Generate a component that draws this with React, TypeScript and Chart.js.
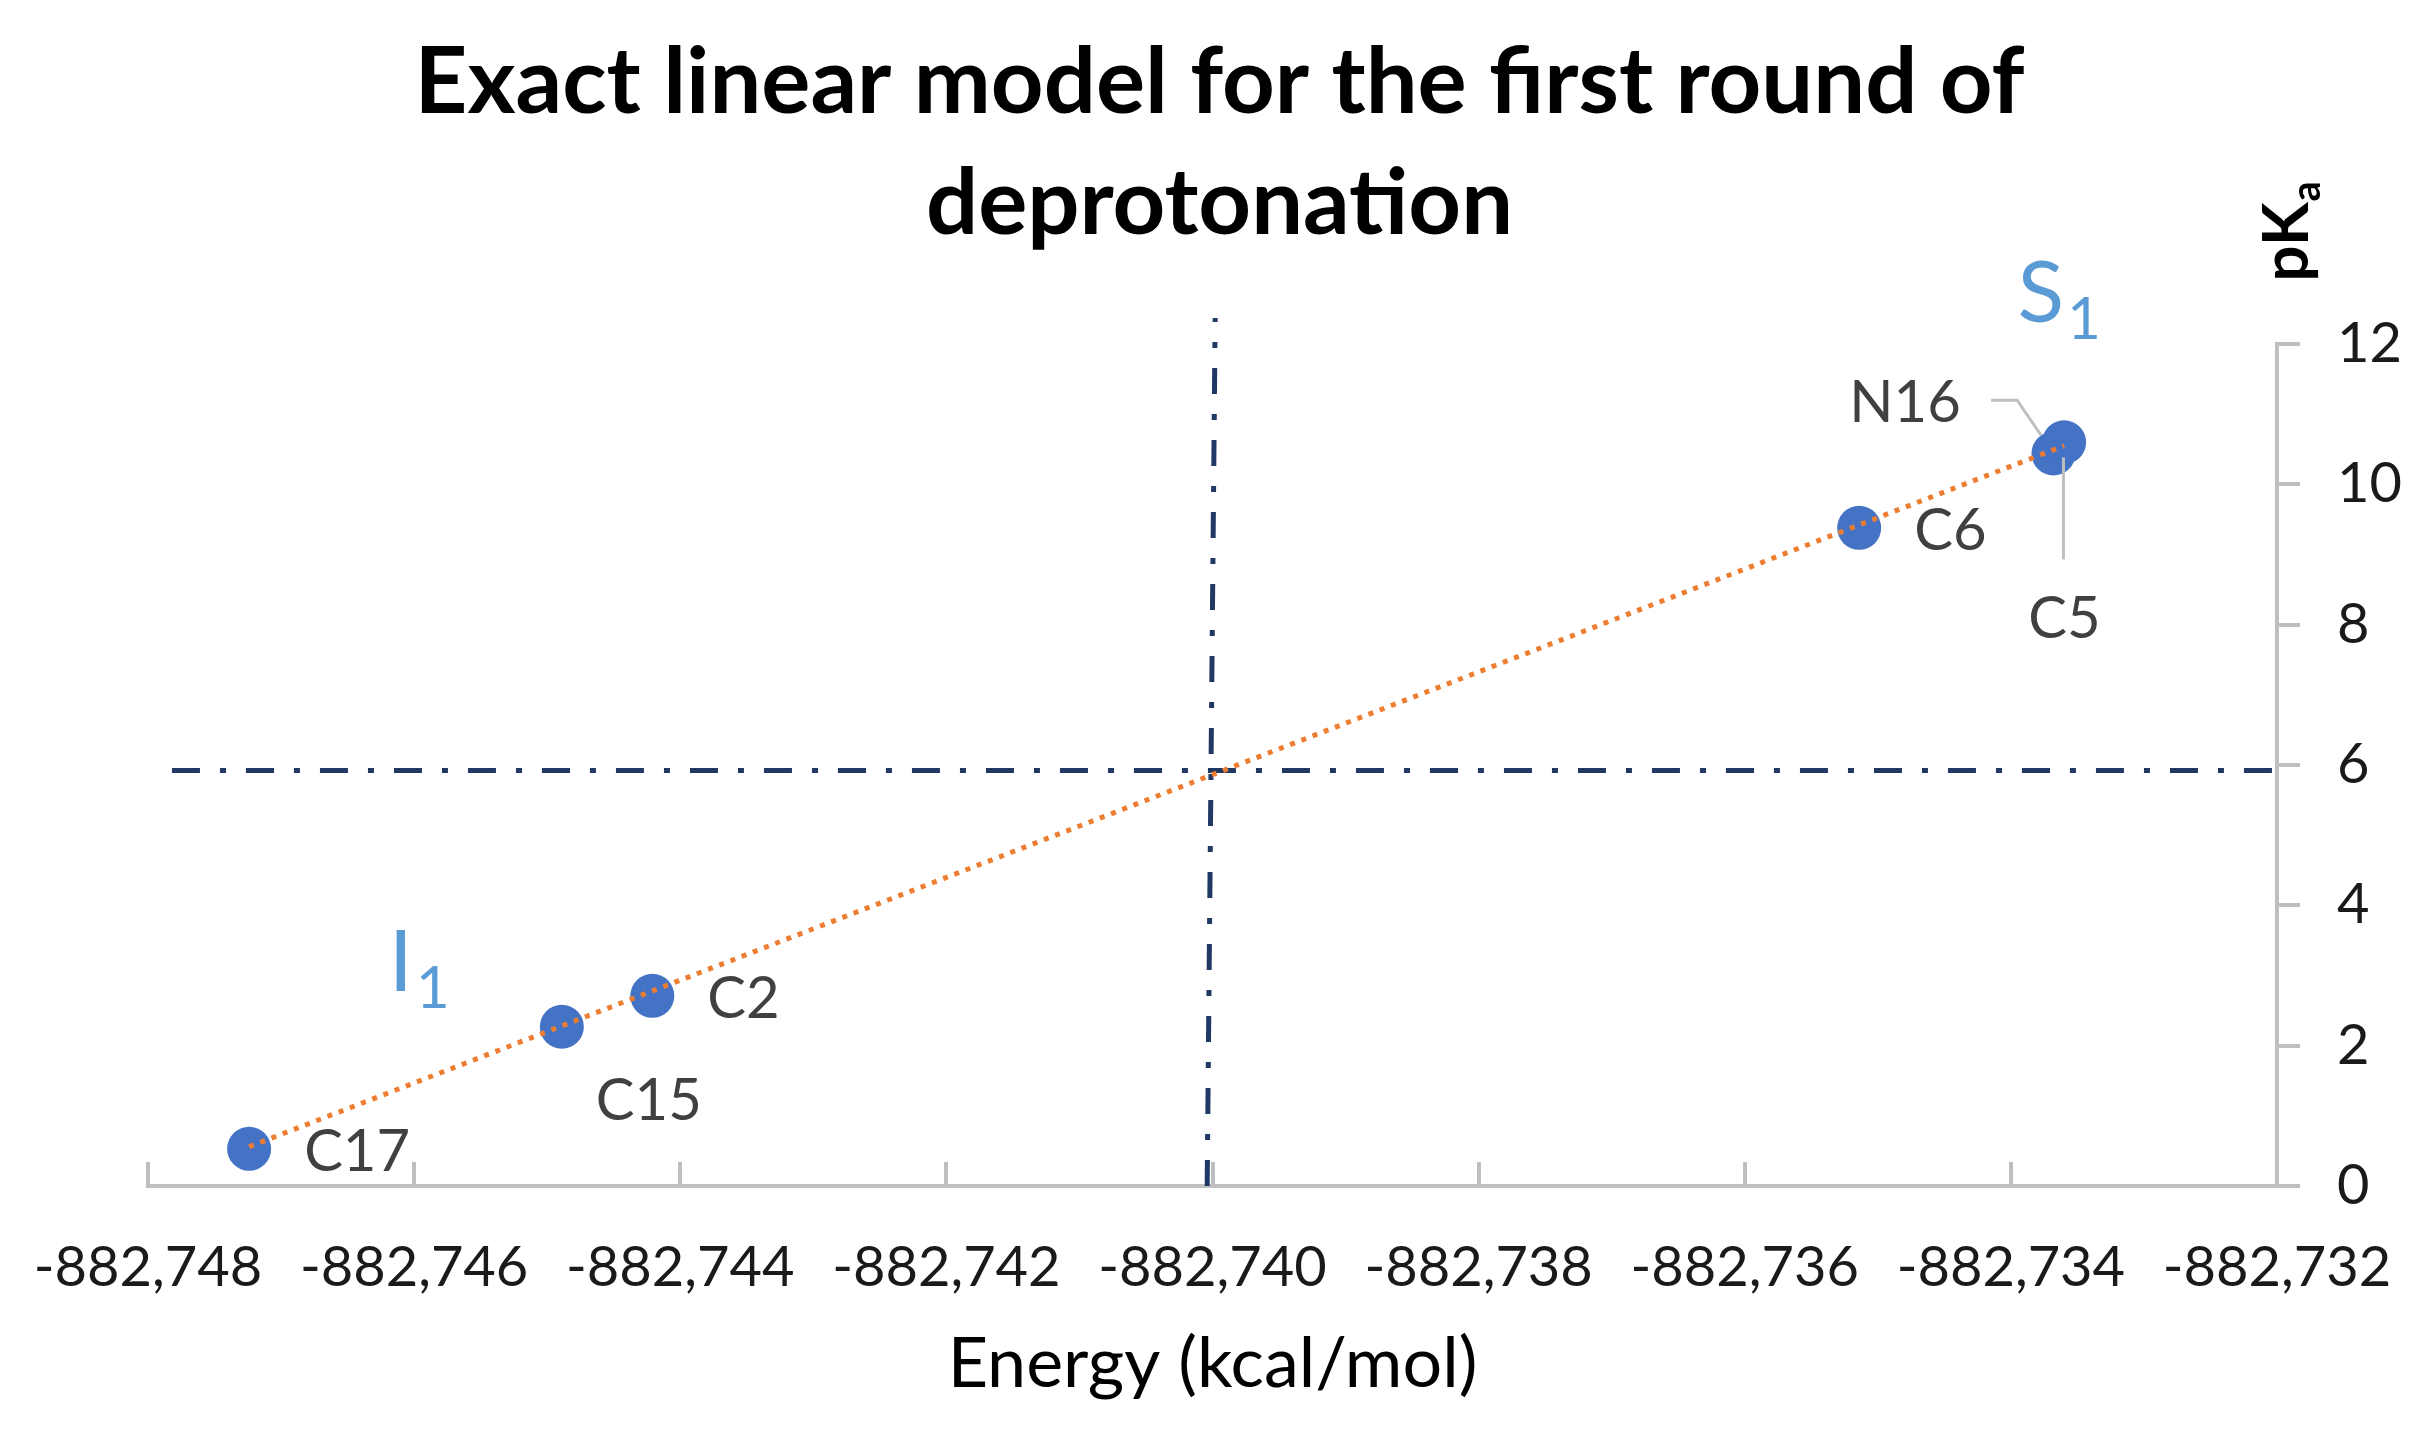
import React, { useEffect, useRef } from "react";
import { Chart, registerables } from "chart.js";

Chart.register(...registerables);

// ---------------- data ----------------
const chartTitleLines = ["Exact linear model for the first round of", "deprotonation"];
const xAxisTitle = "Energy (kcal/mol)";

const siteLabels = ["C17", "C15", "C2", "C6", "C5", "N16"];
const energyValues = [-882747.24, -882744.89, -882744.21, -882735.14, -882733.68, -882733.6];
const pKaValues = [0.53, 2.27, 2.71, 9.38, 10.44, 10.6];

// linear trendline end points
const trendEnergy = [-882747.24, -882733.6];
const trendPKa = [0.56, 10.55];

// reference dash-dot lines
const verticalRefEnergy = [-882740.04, -882739.98];
const verticalRefPKa = [0, 12.37];
const horizontalRefEnergy = [-882747.82, -882732];
const horizontalRefPKa = [5.92, 5.92];

const xTickValues = [-882748, -882746, -882744, -882742, -882740, -882738, -882736, -882734, -882732];
const yTickValues = [0, 2, 4, 6, 8, 10, 12];

// ---------------- style ----------------
const W = 2433;
const H = 1433;
const FONT = "Lato, 'Open Sans', 'DejaVu Sans', sans-serif";
const BLUE = "#4472C4";
const ORANGE = "#ED7D31";
const NAVY = "#1F3864";
const AXIS_GREY = "#BFBFBF";
const LABEL_GREY = "#404040";
const ANNOT_BLUE = "#5B9BD5";

function formatThousands(v: number): string {
  const neg = v < 0;
  const s = Math.round(Math.abs(v)).toString();
  const out = s.replace(/\B(?=(\d{3})+(?!\d))/g, ",");
  return (neg ? "-" : "") + out;
}

const annotationPlugin = {
  id: "customAnnotations",
  afterDraw(chart: any) {
    const { ctx, chartArea, scales } = chart;
    const xs = scales.x;
    const ys = scales.y;
    ctx.save();

    // ---- title ----
    ctx.fillStyle = "#000000";
    ctx.font = `bold 92px ${FONT}`;
    ctx.textAlign = "center";
    ctx.textBaseline = "middle";
    const cx = W / 2 + 3;
    ctx.fillText(chartTitleLines[0], cx, 83);
    ctx.fillText(chartTitleLines[1], cx, 204);

    // ---- pKa axis label (rotated, top right) ----
    ctx.save();
    ctx.translate(chartArea.right + 31, 232);
    ctx.rotate(-Math.PI / 2);
    ctx.textAlign = "left";
    ctx.textBaseline = "alphabetic";
    ctx.font = `bold 64px ${FONT}`;
    const w1 = ctx.measureText("pK").width;
    ctx.font = `bold 40px ${FONT}`;
    const w2 = ctx.measureText("a").width;
    const start = -(w1 + w2) / 2;
    ctx.font = `bold 64px ${FONT}`;
    ctx.fillText("pK", start, 0);
    ctx.font = `bold 40px ${FONT}`;
    ctx.fillText("a", start + w1 + 1, 12);
    ctx.restore();

    // ---- S1 / I1 annotations ----
    const drawSubLabel = (main: string, sub: string, xv: number, yv: number) => {
      const px = xs.getPixelForValue(xv);
      const py = ys.getPixelForValue(yv);
      ctx.fillStyle = ANNOT_BLUE;
      ctx.textAlign = "left";
      ctx.textBaseline = "alphabetic";
      ctx.font = `86px ${FONT}`;
      const mw = ctx.measureText(main).width;
      ctx.fillText(main, px, py);
      ctx.font = `58px ${FONT}`;
      ctx.fillText(sub, px + mw + 3, py + 17);
    };
    drawSubLabel("S", "1", -882733.95, 12.31);
    drawSubLabel("I", "1", -882746.19, 2.78);

    // ---- data labels with leader lines ----
    const meta = chart.getDatasetMeta(1);
    ctx.font = `58px ${FONT}`;
    ctx.fillStyle = LABEL_GREY;
    ctx.textBaseline = "middle";
    ctx.strokeStyle = AXIS_GREY;
    ctx.lineWidth = 3;
    meta.data.forEach((el: any, i: number) => {
      const name = siteLabels[i];
      const x = el.x;
      const y = el.y;
      if (name === "C15") {
        ctx.textAlign = "center";
        ctx.fillText(name, x + 87, y + 75);
      } else if (name === "C5") {
        ctx.beginPath();
        ctx.moveTo(x + 10, y + 4);
        ctx.lineTo(x + 10, y + 106);
        ctx.stroke();
        ctx.textAlign = "center";
        ctx.fillText(name, x + 11, y + 166);
      } else if (name === "N16") {
        ctx.beginPath();
        ctx.moveTo(x - 73, y - 42);
        ctx.lineTo(x - 47, y - 42);
        ctx.lineTo(x - 23, y - 7);
        ctx.stroke();
        ctx.textAlign = "center";
        ctx.fillText(name, x - 159, y - 39);
      } else {
        ctx.textAlign = "left";
        ctx.fillText(name, x + 55, y + 3);
      }
    });

    ctx.restore();
  },
};

export default function App() {
  const canvasRef = useRef<HTMLCanvasElement | null>(null);

  useEffect(() => {
    document.body.style.margin = "0";
    document.body.style.overflow = "hidden";
    const canvas = canvasRef.current;
    if (!canvas) return;

    const toPoints = (xsArr: number[], ysArr: number[]) => xsArr.map((x, i) => ({ x, y: ysArr[i] }));

    const chart = new Chart(canvas, {
      type: "scatter",
      data: {
        datasets: [
          {
            label: "Trendline",
            data: toPoints(trendEnergy, trendPKa),
            showLine: true,
            borderColor: ORANGE,
            borderWidth: 5,
            borderDash: [5, 7],
            borderCapStyle: "butt",
            pointRadius: 0,
            order: 0,
          } as any,
          {
            label: "pKa",
            data: toPoints(energyValues, pKaValues),
            backgroundColor: BLUE,
            borderColor: BLUE,
            borderWidth: 0,
            pointRadius: 22,
            order: 1,
          },
          {
            label: "Vertical reference",
            data: toPoints(verticalRefEnergy, verticalRefPKa),
            showLine: true,
            borderColor: NAVY,
            borderWidth: 5,
            borderDash: [26, 20, 6, 20],
            pointRadius: 0,
            clip: false,
            order: 2,
          } as any,
          {
            label: "Horizontal reference",
            data: toPoints(horizontalRefEnergy, horizontalRefPKa),
            showLine: true,
            borderColor: NAVY,
            borderWidth: 5,
            borderDash: [28, 20, 6, 20],
            pointRadius: 0,
            clip: false,
            order: 2,
          } as any,
        ],
      },
      options: {
        animation: false,
        responsive: false,
        devicePixelRatio: 1,
        layout: { padding: { left: 148, top: 344, right: 0, bottom: 0 } },
        plugins: {
          legend: { display: false },
          tooltip: { enabled: false },
          title: { display: false },
        },
        scales: {
          x: {
            type: "linear",
            position: "bottom",
            min: xTickValues[0],
            max: xTickValues[xTickValues.length - 1],
            afterBuildTicks: (scale: any) => {
              scale.ticks = xTickValues.map((value) => ({ value }));
            },
            afterFit: (scale: any) => {
              scale.height = 247;
              scale.paddingLeft = 0;
              scale.paddingRight = 0;
            },
            ticks: {
              autoSkip: false,
              maxRotation: 0,
              minRotation: 0,
              padding: 72,
              color: "#1A1A1A",
              font: { family: FONT, size: 56 },
              callback: (v: any) => formatThousands(Number(v)),
            },
            grid: {
              drawOnChartArea: false,
              drawTicks: true,
              tickLength: -24,
              tickWidth: 4,
              tickColor: AXIS_GREY,
              color: AXIS_GREY,
              lineWidth: 4,
            },
            border: { display: true, color: AXIS_GREY, width: 4 },
            title: {
              display: true,
              text: xAxisTitle,
              color: "#000000",
              font: { family: FONT, size: 70 },
              padding: { top: 0, bottom: 27 },
            },
          },
          y: {
            type: "linear",
            position: "right",
            min: yTickValues[0],
            max: yTickValues[yTickValues.length - 1],
            afterBuildTicks: (scale: any) => {
              scale.ticks = yTickValues.map((value) => ({ value }));
            },
            afterFit: (scale: any) => {
              scale.width = 156;
            },
            ticks: {
              padding: 37,
              color: "#1A1A1A",
              font: { family: FONT, size: 56 },
            },
            grid: {
              drawOnChartArea: false,
              drawTicks: true,
              tickLength: 23,
              tickWidth: 4,
              tickColor: AXIS_GREY,
              color: AXIS_GREY,
              lineWidth: 4,
            },
            border: { display: true, color: AXIS_GREY, width: 4 },
          },
        },
      },
      plugins: [annotationPlugin],
    } as any);

    return () => {
      chart.destroy();
    };
  }, []);

  return (
    <div style={{ width: W, height: H, background: "#ffffff" }}>
      <canvas ref={canvasRef} width={W} height={H} style={{ width: W, height: H, display: "block" }} />
    </div>
  );
}
